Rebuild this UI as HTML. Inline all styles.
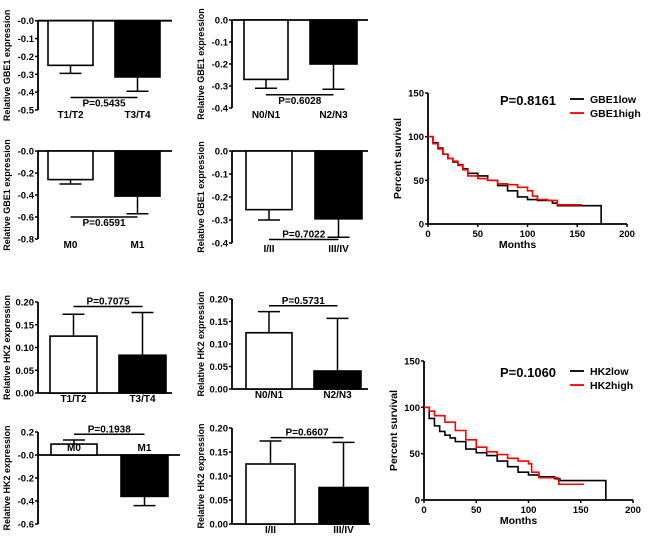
<!DOCTYPE html>
<html><head><meta charset="utf-8"><style>
html,body{margin:0;padding:0;background:#fff}
svg{display:block;font-family:"Liberation Sans",Arial,sans-serif;font-weight:bold}
</style></head><body>
<svg id="fig" width="650" height="541" viewBox="0 0 650 541"></svg>
<script>
// ---- bar chart data ----
const barTitles = ["Relative GBE1 expression","Relative GBE1 expression","Relative GBE1 expression","Relative GBE1 expression","Relative HK2 expression","Relative HK2 expression","Relative HK2 expression","Relative HK2 expression"];
const barCats = [["T1/T2","T3/T4"],["N0/N1","N2/N3"],["M0","M1"],["I/II","III/IV"],["T1/T2","T3/T4"],["N0/N1","N2/N3"],["M0","M1"],["I/II","III/IV"]];
const barVals = [[-0.25,-0.315],[-0.27,-0.2],[-0.26,-0.41],[-0.255,-0.295],[0.125,0.083],[0.125,0.04],[0.095,-0.36],[0.125,0.076]];
const barErrs = [[-0.295,-0.395],[-0.31,-0.315],[-0.30,-0.57],[-0.30,-0.375],[0.173,0.177],[0.172,0.157],[0.13,-0.44],[0.173,0.17]];
const barPvals = ["P=0.5435","P=0.6028","P=0.6591","P=0.7022","P=0.7075","P=0.5731","P=0.1938","P=0.6607"];
const barTicks = [[0,-0.1,-0.2,-0.3,-0.4,-0.5],[0,-0.1,-0.2,-0.3,-0.4],[0,-0.2,-0.4,-0.6,-0.8],[0,-0.1,-0.2,-0.3,-0.4],[0,0.05,0.1,0.15,0.2],[0,0.05,0.1,0.15,0.2],[0.2,0,-0.2,-0.4,-0.6],[0,0.05,0.1,0.15,0.2]];
const barTickLabels = [["-0.0","-0.1","-0.2","-0.3","-0.4","-0.5"],["0.0","-0.1","-0.2","-0.3","-0.4"],["-0.0","-0.2","-0.4","-0.6","-0.8"],["0.0","-0.1","-0.2","-0.3","-0.4"],["0.00","0.05","0.10","0.15","0.20"],["0.00","0.05","0.10","0.15","0.20"],["0.2","-0.0","-0.2","-0.4","-0.6"],["0.00","0.05","0.10","0.15","0.20"]];
const barPLine = [-0.43,-0.34,-0.6,-0.385,0.19,0.185,0.18,0.18];
// ---- survival data ----
const kmPvals = ["P=0.8161","P=0.1060"];
const kmNames = [["GBE1low","GBE1high"],["HK2low","HK2high"]];
const kmXTicks = [0,50,100,150,200];
const kmYTicks = [0,50,100,150];
const gLowT = [0,5,10,15,20,25,30,35,40,50,60,70,80,90,100,110,125,130,174,174];
const gLowS = [100,93,87,80,75,71,68,63,58,55,50,44,38,31,28,27,24,21,21,0];
const gHighT = [0,5,10,15,20,25,30,35,40,50,60,70,80,90,100,105,110,120,130,155];
const gHighS = [100,92,86,80,75,72,67,62,55,52,50,46,45,42,38,32,28,27,22,22];
const hLowT = [0,5,10,15,20,25,30,40,50,60,70,80,90,100,110,125,130,174,174];
const hLowS = [100,88,80,74,70,67,63,55,51,48,42,36,30,27,25,23,21,21,0];
const hHighT = [0,5,10,20,30,40,50,60,70,80,90,100,103,110,128,129,153];
const hHighS = [100,96,91,84,75,65,57,52,49,45,42,39,30,24,22,17,17];

const NS="http://www.w3.org/2000/svg", svg=document.getElementById('fig');
function el(tag,attrs,parent,txt){const e=document.createElementNS(NS,tag);for(const k in attrs)e.setAttribute(k,attrs[k]);if(txt!==undefined)e.textContent=txt;(parent||svg).appendChild(e);return e;}

const panels=[
 {ax:38,y0:20.7,y1:110,xe:172,b:[[48,93],[115,160]],cy:118,pa:false},
 {ax:232,y0:20,y1:108,xe:368,b:[[244,288],[310,357]],cy:118,pa:false},
 {ax:38,y0:151,y1:239,xe:172,b:[[48,93],[115,160]],cy:248,pa:false},
 {ax:232,y0:151,y1:243,xe:368,b:[[246,292],[315,362]],cy:252,pa:true},
 {ax:38,y0:393,y1:302,xe:172,b:[[50,97],[119,166]],cy:402,pa:true},
 {ax:232,y0:389,y1:299,xe:368,b:[[246,292],[314,361]],cy:398,pa:true},
 {ax:38,y0:432,y1:524,xe:180,b:[[51,97],[121,168]],cy:451,pa:true},
 {ax:232,y0:524,y1:428,xe:370,b:[[246,295],[319,368]],cy:533,pa:true}
];
panels.forEach((p,i)=>{
  const g=el('g',{},svg);
  
  
  const t=barTicks[i], tmin=t[0], tmax=t[t.length-1];
  const y=v=>p.y0+(v-tmin)/(tmax-tmin)*(p.y1-p.y0);
  el('line',{x1:p.ax,y1:Math.min(p.y0,p.y1),x2:p.ax,y2:Math.max(p.y0,p.y1),stroke:'#000','stroke-width':1.8},g);
  t.forEach((v,k)=>{
    el('line',{x1:p.ax-3,y1:y(v),x2:p.ax,y2:y(v),stroke:'#000','stroke-width':1.5},g);
    const tl=el('text',{x:p.ax-4,y:y(v)+3.5,'font-size':9.5,'text-anchor':'end'},g,barTickLabels[i][k]);
    
    
  });
  const base=y(0);
  el('line',{x1:p.ax,y1:base,x2:p.xe,y2:base,stroke:'#000','stroke-width':1.8},g);
  p.b.forEach((bx,k)=>{
    const v=barVals[i][k], e=barErrs[i][k], cx=(bx[0]+bx[1])/2;
    el('line',{x1:cx,y1:y(v),x2:cx,y2:y(e),stroke:'#000','stroke-width':1.5},g);
    el('line',{x1:cx-11,y1:y(e),x2:cx+11,y2:y(e),stroke:'#000','stroke-width':1.5},g);
    const r=el('rect',{x:bx[0],y:Math.min(y(v),base),width:bx[1]-bx[0],height:Math.abs(y(v)-base),fill:k?'#000':'#fff',stroke:'#000','stroke-width':1.6},g);
    
    
    const cl=el('text',{x:cx,y:p.cy,'font-size':10,'text-anchor':'middle'},g,barCats[i][k]);
    
    
  });
  const c1=(p.b[0][0]+p.b[0][1])/2, c2=(p.b[1][0]+p.b[1][1])/2;
  const py=y(barPLine[i]);
  el('line',{x1:c1,y1:py,x2:c2,y2:py,stroke:'#000','stroke-width':1.5},g);
  const pt=el('text',{x:(c1+c2)/2,y:p.pa?py-2:py+9,'font-size':10,'text-anchor':'middle'},g,barPvals[i]);
  
  
  const cyc=(p.y0+p.y1)/2;
  const yl=el('text',{x:0,y:0,'font-size':9,'text-anchor':'middle',transform:`translate(${p.ax-28},${cyc}) rotate(-90)`},g,barTitles[i]);
  
  
});

const kms=[
 {ax:428,yT:93,yB:224,xR:627,series:[[gLowT,gLowS],[gHighT,gHighS]],py:103},
 {ax:424,yT:361,yB:500,xR:633,series:[[hLowT,hLowS],[hHighT,hHighS]],py:375}
];
kms.forEach((k,i)=>{
  const g=el('g',{},svg);
  
  
  const x=v=>k.ax+v/200*(k.xR-k.ax), y=v=>k.yB-v/150*(k.yB-k.yT);
  el('line',{x1:k.ax,y1:k.yT,x2:k.ax,y2:k.yB,stroke:'#000','stroke-width':1.8},g);
  el('line',{x1:k.ax,y1:k.yB,x2:k.xR,y2:k.yB,stroke:'#000','stroke-width':1.8},g);
  kmYTicks.forEach(v=>{el('line',{x1:k.ax-3,y1:y(v),x2:k.ax,y2:y(v),stroke:'#000','stroke-width':1.5},g);
    const t=el('text',{x:k.ax-4,y:y(v)+3.5,'font-size':9.5,'text-anchor':'end'},g,String(v));
    });
  kmXTicks.forEach(v=>{el('line',{x1:x(v),y1:k.yB,x2:x(v),y2:k.yB+3,stroke:'#000','stroke-width':1.5},g);
    const t=el('text',{x:x(v),y:k.yB+13,'font-size':9.5,'text-anchor':'middle'},g,String(v));
    });
  const xt=el('text',{x:(k.ax+k.xR)/2-10,y:k.yB+24,'font-size':10.5,'text-anchor':'middle'},g,'Months');
  
  const yt=el('text',{x:0,y:0,'font-size':10.5,'text-anchor':'middle',transform:`translate(${k.ax-27},${(k.yT+k.yB)/2}) rotate(-90)`},g,'Percent survival');
  
  k.series.forEach((s,j)=>{
    const T=s[0],S=s[1];let d=`M${x(T[0])},${y(S[0])}`;
    for(let m=1;m<T.length;m++){d+=`H${x(T[m])}V${y(S[m])}`;}
    const pth=el('path',{d:d,fill:'none',stroke:j?'#f00':'#000','stroke-width':1.6},g);
    
    const ly=k.py+j*14;
    el('line',{x1:570,y1:ly-4,x2:584,y2:ly-4,stroke:j?'#f00':'#000','stroke-width':1.8},g);
    const lt=el('text',{x:590,y:ly,'font-size':10.5},g,kmNames[i][j]);
    
  });
  const pv=el('text',{x:500,y:k.py+2,'font-size':13},g,kmPvals[i]);
  
});
</script>
</body></html>
